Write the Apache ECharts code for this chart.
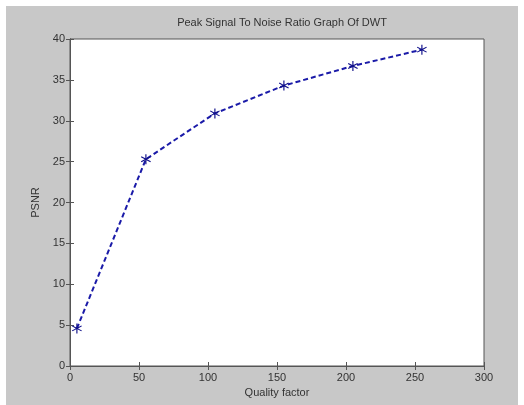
<!DOCTYPE html>
<html>
<head>
<meta charset="utf-8">
<script src="https://cdn.jsdelivr.net/npm/echarts@6/dist/echarts.min.js"></script>
<style>
  html,body{margin:0;padding:0;background:#fff;}
  #chart{width:524px;height:405px;}
</style>
</head>
<body>
<div id="chart"></div>
<script>
// values
var qualityFactor = [5, 55, 105, 155, 205, 255]
var psnr = [4.6, 25.3, 30.9, 34.3, 36.7, 38.7]

var points = qualityFactor.map(function(q, i){ return [q, psnr[i]] })

var chart = echarts.init(document.getElementById('chart'))
var labelStyle = { color:'#333', fontSize:11, fontFamily:'Liberation Sans, Arial, sans-serif' }
// matlab '*' marker
var asterisk = 'path://M4.5,0 L5.5,0 L5.5,3.8 L8.8,1.9 L9.3,2.8 L6,4.7 L9.3,6.6 L8.8,7.5 L5.5,5.6 L5.5,9.4 L4.5,9.4 L4.5,5.6 L1.2,7.5 L0.7,6.6 L4,4.7 L0.7,2.8 L1.2,1.9 L4.5,3.8 Z'

chart.setOption({
  backgroundColor:'#fff',
  animation:false,
  graphic:[
    { type:'rect', z:-10, shape:{ x:6, y:6, width:512, height:399 }, style:{ fill:'#c8c8c8' } }
  ],
  title:{
    text:'Peak Signal To Noise Ratio Graph Of DWT',
    left:277, top:12, textAlign:'center',
    textStyle:{ color:'#333', fontSize:11, fontWeight:'normal', fontFamily:'Liberation Sans, Arial, sans-serif' }
  },
  grid:{ left:70, top:39, width:414, height:327, show:true, backgroundColor:'#fff', borderColor:'#555', borderWidth:1 },
  xAxis:[
    {
      type:'value', min:0, max:300, interval:50,
      name:'Quality factor', nameLocation:'middle', nameGap:20,
      nameTextStyle:labelStyle,
      axisLine:{ show:true, lineStyle:{ color:'#555' } },
      axisTick:{ show:true, inside:true, length:4, lineStyle:{ color:'#555' } },
      axisLabel:Object.assign({ margin:6 }, labelStyle),
      splitLine:{ show:false }
    },
    {
      type:'value', min:0, max:300, interval:50, position:'top',
      axisLine:{ show:true, lineStyle:{ color:'#555' } },
      axisTick:{ show:true, inside:true, length:4, lineStyle:{ color:'#555' } },
      axisLabel:{ show:false },
      splitLine:{ show:false }
    }
  ],
  yAxis:[
    {
      type:'value', min:0, max:40, interval:5,
      name:'PSNR', nameLocation:'middle', nameGap:22, nameRotate:90,
      nameTextStyle:labelStyle,
      axisLine:{ show:true, lineStyle:{ color:'#555' } },
      axisTick:{ show:true, inside:true, length:4, lineStyle:{ color:'#555' } },
      axisLabel:Object.assign({ margin:5 }, labelStyle),
      splitLine:{ show:false }
    },
    {
      type:'value', min:0, max:40, interval:5, position:'right',
      axisLine:{ show:true, lineStyle:{ color:'#555' } },
      axisTick:{ show:true, inside:true, length:4, lineStyle:{ color:'#555' } },
      axisLabel:{ show:false },
      splitLine:{ show:false }
    }
  ],
  series:[
    {
      type:'line',
      data:points,
      symbol:asterisk,
      symbolSize:10,
      lineStyle:{ color:'#1a1aa8', width:2, type:[5,3] },
      itemStyle:{ color:'#10108a' }
    }
  ]
})
</script>
</body>
</html>
